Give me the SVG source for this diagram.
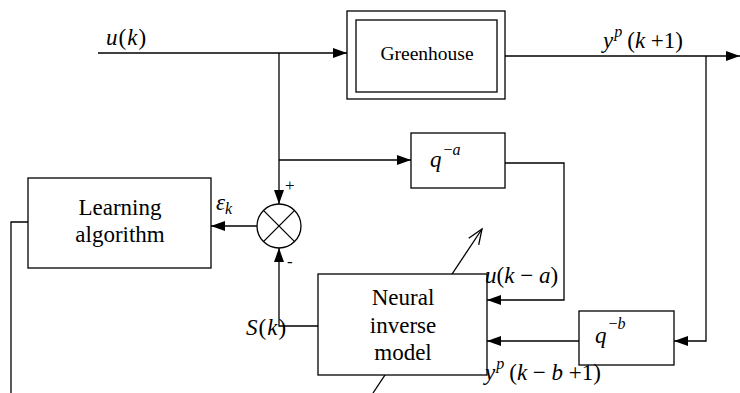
<svg xmlns="http://www.w3.org/2000/svg" width="740" height="393" viewBox="0 0 740 393">
<style>
.box{fill:#fff;stroke:#000;stroke-width:1.3}
.ln{fill:none;stroke:#000;stroke-width:1.3}
text{font-family:"Liberation Serif","Times New Roman",serif;fill:#000}
.i{font-style:italic}
.lbl{font-size:23px;text-anchor:middle}
.m{font-size:23px}
.s{font-size:16px}
</style>
<defs>
<marker id="ah" markerUnits="userSpaceOnUse" markerWidth="14" markerHeight="10" refX="14" refY="5" orient="auto">
<path d="M0,0 L14,5 L0,10 z" fill="#000"/>
</marker>
<marker id="oa" markerUnits="userSpaceOnUse" markerWidth="18" markerHeight="14" refX="16" refY="7" orient="auto">
<path d="M1,1 L16,7 L1,13" fill="none" stroke="#000" stroke-width="1.3"/>
</marker>
</defs>
<rect width="740" height="393" fill="#fff"/>
<g id="connectors">
<path class="ln" d="M98,53 H347" marker-end="url(#ah)"/>
<path class="ln" d="M279,53 V204" marker-end="url(#ah)"/>
<path class="ln" d="M279,160 H411" marker-end="url(#ah)"/>
<path class="ln" d="M257,226 H211" marker-end="url(#ah)"/>
<path class="ln" d="M318,326 H279 V248" marker-end="url(#ah)"/>
<path class="ln" d="M505,56 H740" marker-end="url(#ah)"/>
<path class="ln" d="M706,56 V341 H674" marker-end="url(#ah)"/>
<path class="ln" d="M579,341 H487" marker-end="url(#ah)"/>
<path class="ln" d="M505,163 H564 V300 H487" marker-end="url(#ah)"/>
<path class="ln" d="M28,222 H11 V393"/>
<path class="ln" d="M373,393 L482,229" marker-end="url(#oa)"/>
</g>
<g id="greenhouse">
<rect class="box" x="347" y="11" width="158" height="88"/>
<rect class="box" x="356" y="20" width="141" height="72"/>
<text x="427" y="60" font-size="19.5" text-anchor="middle">Greenhouse</text>
</g>
<g id="learning">
<rect class="box" x="28" y="178" width="183" height="90"/>
<text class="lbl" x="120" y="215">Learning</text>
<text class="lbl" x="120" y="242">algorithm</text>
</g>
<g id="sum">
<circle class="box" cx="279" cy="226" r="22"/>
<path class="ln" d="M263.4,210.4 L294.6,241.6 M294.6,210.4 L263.4,241.6"/>
<text x="285" y="191" font-size="17">+</text>
<text x="287" y="267" font-size="17">-</text>
</g>
<g id="delay-a">
<rect class="box" x="411" y="133" width="94" height="55"/>
<text class="m" x="430" y="167"><tspan class="i">q</tspan><tspan class="s" dy="-12" dx="2">−<tspan class="i">a</tspan></tspan></text>
</g>
<g id="delay-b">
<rect class="box" x="579" y="311" width="95" height="54"/>
<text class="m" x="595" y="343"><tspan class="i">q</tspan><tspan class="s" dy="-14" dx="2">−<tspan class="i">b</tspan></tspan></text>
</g>
<g id="neural">
<rect class="box" x="318" y="274" width="169" height="101"/>
<text class="lbl" x="403" y="305">Neural</text>
<text class="lbl" x="403" y="333">inverse</text>
<text class="lbl" x="403" y="360">model</text>
</g>
<g id="labels">
<text class="m" x="106" y="45"><tspan class="i">u</tspan><tspan dx="1">(</tspan><tspan class="i" dx="1">k</tspan><tspan dx="1">)</tspan></text>
<text class="m" x="603" y="48"><tspan class="i">y</tspan><tspan class="s i" dy="-11" dx="1">p</tspan><tspan dy="11" dx="5">(</tspan><tspan class="i">k</tspan> +1)</text>
<text class="m" x="216" y="210"><tspan class="i">ε</tspan><tspan class="s i" dy="4">k</tspan></text>
<text class="m" x="246" y="335"><tspan class="i">S</tspan><tspan dx="1">(</tspan><tspan class="i" dx="1">k</tspan><tspan dx="1">)</tspan></text>
<text class="m" x="485" y="283"><tspan class="i">u</tspan>(<tspan class="i">k</tspan> − <tspan class="i">a</tspan>)</text>
<text class="m" x="485" y="380"><tspan class="i">y</tspan><tspan class="s i" dy="-11" dx="1">p</tspan><tspan dy="11" dx="5">(</tspan><tspan class="i">k</tspan> − <tspan class="i">b</tspan> +1)</text>
</g>
</svg>
